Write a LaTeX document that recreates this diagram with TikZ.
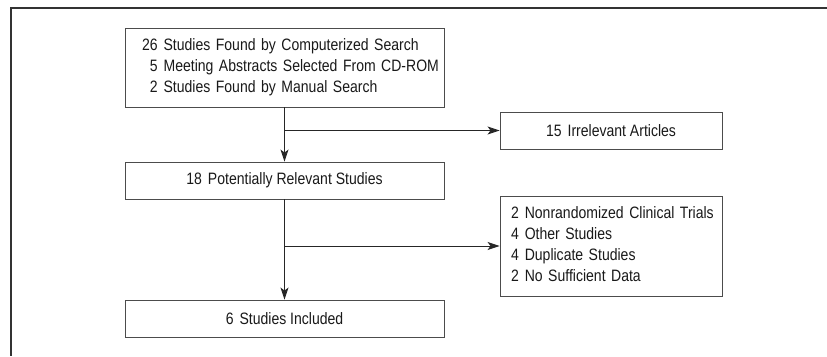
\documentclass[tikz,border=0pt]{standalone}
\usepackage{fontspec}
\setmainfont{Liberation Sans}[FakeStretch=0.85]
\usetikzlibrary{arrows.meta}
\tikzset{
  stepbox/.style={draw=black!70, line width=0.9pt, minimum height=37pt, inner sep=0pt,
    font=\fontsize{16.5}{21}\selectfont, text=black!90},
  flowarrow/.style={draw=black!85, line width=0.9pt, -{Stealth[length=12pt,width=8pt,inset=3pt]}},
}
\begin{document}
\begin{tikzpicture}[x=1pt,y=1pt]
  \useasboundingbox (0,0) rectangle (827,356);
  % frame
  \draw[black!80, line width=1.6pt] (827,348) -- (11,348) -- (11,0);
  % boxes
  \node[stepbox, minimum height=79pt, text width=285pt, inner xsep=17pt, align=left] (found) at (284.5,288.5)
    {\begin{tabular}{@{}r@{\hspace{6pt}}l@{}}
      26 & Studies Found by Computerized Search\\
      5 & Meeting Abstracts Selected From CD-ROM\\
      2 & Studies Found by Manual Search
    \end{tabular}};
  \node[stepbox, minimum width=222pt] (irrel) at (611,225.5) {15\hspace{6pt}Irrelevant Articles};
  \node[stepbox, minimum width=319pt] (relevant) at (284.5,175.5) {18\hspace{6pt}Potentially Relevant Studies};
  \node[stepbox, minimum height=100pt, text width=200pt, inner xsep=11pt, align=left] (excl) at (611,110)
    {\begin{tabular}{@{}r@{\hspace{6pt}}l@{}}
      2 & Nonrandomized Clinical Trials\\
      4 & Other Studies\\
      4 & Duplicate Studies\\
      2 & No Sufficient Data
    \end{tabular}};
  \node[stepbox, minimum width=319pt] (included) at (284.5,37.5) {6\hspace{6pt}Studies Included};
  % connectors
  \coordinate (split1) at (found.south |- irrel.west);
  \coordinate (split2) at (relevant.south |- excl.west);
  \draw[flowarrow] (found.south) -- (relevant.north);
  \draw[flowarrow] (split1) -- (irrel.west);
  \draw[flowarrow] (relevant.south) -- (included.north);
  \draw[flowarrow] (split2) -- (excl.west);
\end{tikzpicture}
\end{document}
